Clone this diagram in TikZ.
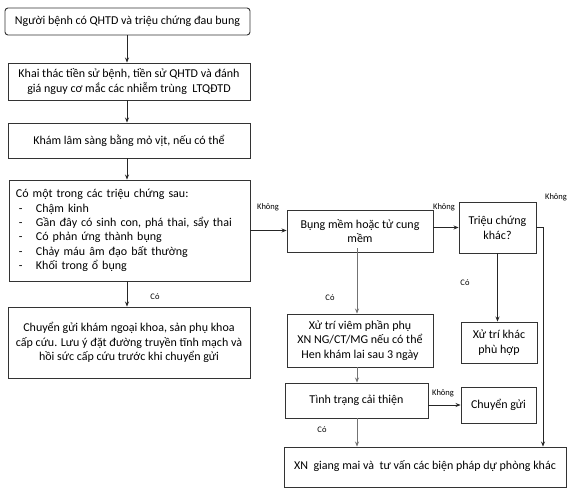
\documentclass[tikz,border=0pt]{standalone}
\usepackage{fontspec}
\setmainfont{Carlito}
\usetikzlibrary{arrows.meta}
\tikzset{
  box/.style={draw=black!80, line width=0.9pt, inner sep=0pt, align=center, font=\fontsize{12}{14.8}\selectfont},
  arr/.style={draw=black!85, line width=0.7pt, -{Stealth[length=5pt,width=4pt]}},
  thinarr/.style={draw=black!55, line width=0.7pt, -{Stealth[length=5pt,width=4pt]}},
  lbl/.style={font=\fontsize{8.5}{9}\selectfont, inner sep=0pt}
}
\begin{document}
\begin{tikzpicture}[x=1pt,y=-1pt]
\useasboundingbox (0,0) rectangle (576,496);
\fill[white] (0,0) rectangle (576,496);
% nodes
\node[box, rounded corners=3pt, minimum width=245pt, minimum height=27pt] (b1) at (127.5,21.5) {Người bệnh có QHTD và triệu chứng đau bung};
\node[box, minimum width=242pt, minimum height=37pt] (b2) at (129,81.5) {Khai thác tiền sử bệnh, tiền sử QHTD và đánh\\giá nguy cơ mắc các nhiễm trùng \ LTQĐTD};
\node[box, minimum width=242pt, minimum height=35pt] (b3) at (129,140.5) {Khám lâm sàng bằng mỏ vịt, nếu có thể};
\node[box, minimum width=241pt, minimum height=101pt, align=left, text width=227pt, font=\fontsize{12}{14.3}\selectfont] (b4) at (129.5,230.5) {Có một trong các triệu chứng sau:\\
\hspace*{3pt}\makebox[17pt][l]{-}Chậm kinh\\
\hspace*{3pt}\makebox[17pt][l]{-}Gần đây có sinh con, phá thai, sẩy thai\\
\hspace*{3pt}\makebox[17pt][l]{-}Có phản ứng thành bụng\\
\hspace*{3pt}\makebox[17pt][l]{-}Chảy máu âm đạo bất thường\\
\hspace*{3pt}\makebox[17pt][l]{-}Khối trong ổ bụng};
\node[box, minimum width=242pt, minimum height=71pt] (b5) at (129,342.5) {Chuyển gửi khám ngoại khoa, sản phụ khoa\\cấp cứu. Lưu ý đặt đường truyền tĩnh mạch và\\hồi sức cấp cứu trước khi chuyển gửi};
\node[box, minimum width=146pt, minimum height=42pt] (b6) at (360,231) {Bụng mềm hoặc tử cung\\mềm};
\node[box, minimum width=77pt, minimum height=51pt] (b7) at (497.5,227.5) {Triệu chứng\\khác?};
\node[box, minimum width=146pt, minimum height=53pt] (b8) at (360,340.5) {Xử trí viêm phần phụ\\XN NG/CT/MG nếu có thể\\Hen khám lai sau 3 ngày};
\node[box, minimum width=76pt, minimum height=41pt] (b9) at (499,342.5) {Xử trí khác\\phù hợp};
\node[box, minimum width=143pt, minimum height=35pt] (b11) at (356.5,400.5) {Tình trạng cải thiện};
\node[box, minimum width=75pt, minimum height=36pt] (b12) at (498.5,405) {Chuyển gửi};
\node[box, minimum width=282pt, minimum height=40pt] (b10) at (425,467) {\raisebox{5pt}{XN \ giang mai và \ tư vấn các biện pháp dự phòng khác}};
% helper coordinates
\coordinate (ax) at (127,0);
\coordinate (mx) at (357,0);
\coordinate (rx) at (543,0);
% connectors
\draw[arr] (b1.south -| ax) -- (b2.north -| ax);
\draw[arr] (b2.south -| ax) -- (b3.north -| ax);
\draw[arr] (b3.south -| ax) -- (b4.north -| ax);
\draw[arr] (b4.south -| ax) -- (b5.north -| ax);
\draw[arr] (b4.east) -- (b4.east -| b6.west);
\draw[arr] (b7.west -| b6.east) -- (b7.west);
\draw[arr] (b7.east) -- (b7.east -| rx) -- (b10.north -| rx);
\draw[thinarr] ([yshift=4pt]b6.south -| mx) -- (b8.north -| mx);
\draw[arr] (b7.south) -- (b9.north -| b7.south);
\draw[thinarr] (b8.south -| mx) -- (b11.north -| mx);
\draw[arr] (b12.west -| b11.east) -- (b12.west);
\draw[thinarr] (b11.south -| mx) -- (b10.north -| mx);
% labels
\node[lbl] (l1) at (155,297) {Có};
\node[lbl] (l2) at (268,207) {Không};
\node[lbl] (l3) at (444,207) {Không};
\node[lbl] (l4) at (556,197) {Không};
\node[lbl] (l5) at (330,298) {Có};
\node[lbl] (l6) at (465,283) {Có};
\node[lbl] (l7) at (443,393) {Không};
\node[lbl] (l8) at (322,430) {Có};
\end{tikzpicture}
\end{document}
